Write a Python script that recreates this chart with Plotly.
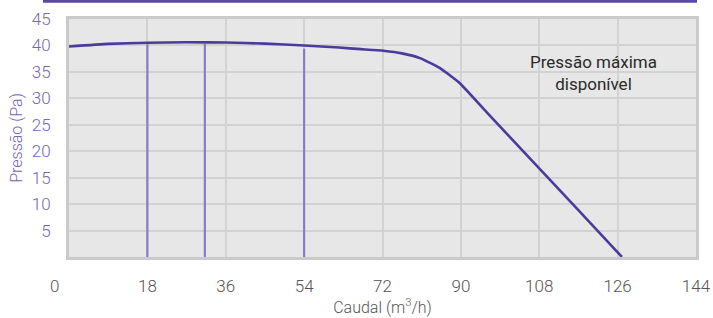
import plotly.graph_objects as go

# Curve: pressure vs flow
flow = [0, 9, 18, 27, 36, 45, 54, 62, 67, 72.2, 76.5, 80.6, 85.2, 89.7, 95.9, 106.6, 116.5, 127]
pressure = [39.8, 40.3, 40.5, 40.6, 40.55, 40.35, 40.0, 39.6, 39.3, 39.0, 38.5, 37.6, 35.7, 32.9, 27.4, 18.0, 9.3, 0]

# Vertical marker lines (flow position, top pressure)
mark_x = [18, 31.2, 54]
mark_top = [40.45, 40.3, 39.4]

x_ticks = [0, 18, 36, 54, 72, 90, 108, 126, 144]
x_ticktext = ["0\u2007\u2007\u2007", "18", "36", "54", "72", "90", "108", "126", "144"]
y_ticks = [5, 10, 15, 20, 25, 30, 35, 40, 45]

curve_color = "#4a3b9c"
mark_color = "#8a7cc4"
purple_text = "#7466b6"
FONT = "Roboto"

fig = go.Figure()

vx, vy = [], []
for x, t in zip(mark_x, mark_top):
    vx += [x, x, None]
    vy += [0, t, None]
fig.add_trace(go.Scatter(x=vx, y=vy, mode="lines",
                         line=dict(color=mark_color, width=2.2),
                         hoverinfo="skip", showlegend=False))

fig.add_trace(go.Scatter(x=flow, y=pressure, mode="lines",
                         line=dict(color=curve_color, width=2.6, shape="spline", smoothing=0.4),
                         showlegend=False))

fig.add_annotation(x=120.5, y=34.8, text="Pressão máxima<br>disponível", showarrow=False,
                   font=dict(family=FONT, size=17, color="#2a2a2a", weight=400), align="center")

# top purple bar
fig.add_shape(type="rect", xref="paper", yref="paper", x0=-0.0415, x1=1.0016,
              y0=1.068, y1=1.085, fillcolor="#5a47a6", line_width=0, layer="above")

fig.update_layout(
    width=713, height=318,
    margin=dict(l=69, r=17, t=19, b=61),
    paper_bgcolor="white",
    plot_bgcolor="#e7e7e7",
    font=dict(family=FONT, size=17, color="#555555", weight=300),
    xaxis=dict(range=[0, 144], tickvals=x_ticks, ticktext=x_ticktext, automargin=False,
               showgrid=True, gridcolor="#d2d2d2", gridwidth=1.5,
               showline=True, linecolor="#cacaca", linewidth=3, mirror=True,
               zeroline=False, ticks="", ticklabelstandoff=12,
               tickfont=dict(color="#555555", size=17, weight=300),
               title=dict(text="Caudal (m<sup>3</sup>/h)", font=dict(size=16, color="#555555", weight=300), standoff=1)),
    yaxis=dict(range=[0, 45], tickvals=y_ticks, automargin=False,
               showgrid=True, gridcolor="#d2d2d2", gridwidth=1.5,
               showline=True, linecolor="#cacaca", linewidth=3, mirror=True,
               zeroline=False, ticks="", ticklabelstandoff=12,
               tickfont=dict(color=purple_text, size=17, weight=300),
               title=dict(text="Pressão (Pa)", font=dict(size=16, color=purple_text, weight=300), standoff=6)),
)

fig.write_html("out.html", config={"displayModeBar": False},
               post_script="document.body.style.margin='0';document.body.style.overflow='hidden';")
